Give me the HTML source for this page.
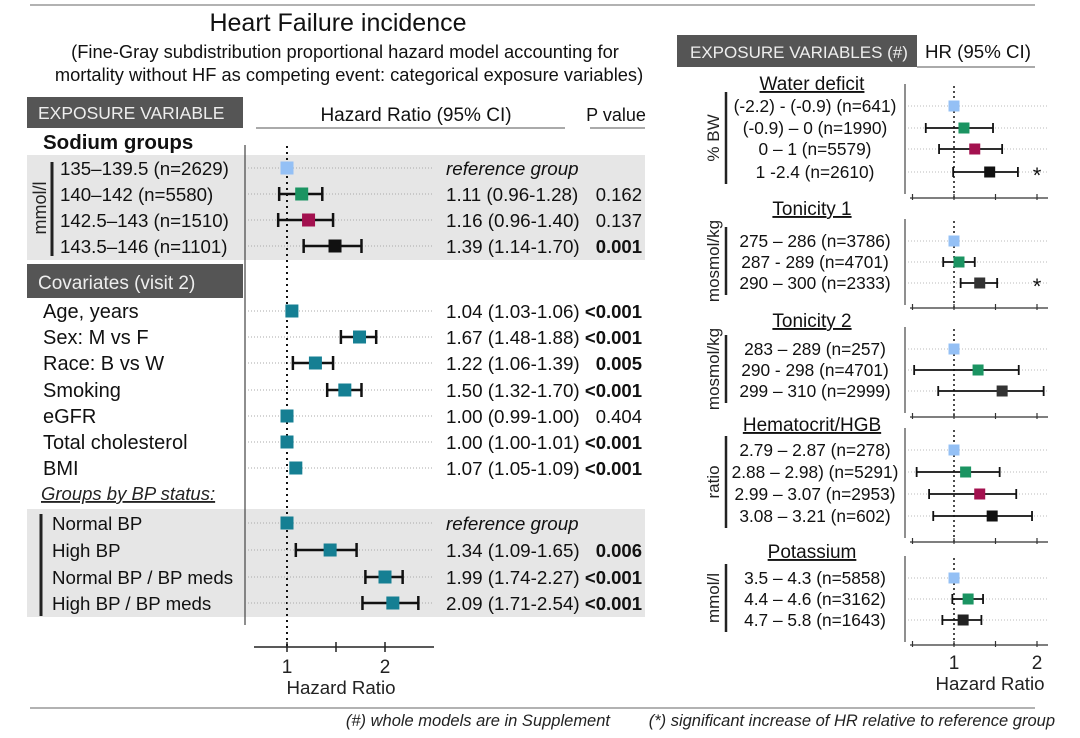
<!DOCTYPE html>
<html><head><meta charset="utf-8">
<style>
html,body{margin:0;padding:0;background:#fff;}
svg{display:block;font-family:"Liberation Sans",Arial,sans-serif;}
</style></head>
<body>
<svg id="chart" width="1080" height="738" viewBox="0 0 1080 738" xmlns="http://www.w3.org/2000/svg">
<g>
<line x1="30" y1="5" x2="1035" y2="5" stroke="#666" stroke-width="1"/>
<text x="338" y="31" font-size="25" text-anchor="middle" fill="#111">Heart Failure incidence</text>
<text x="345" y="58" font-size="18.3" text-anchor="middle" fill="#111">(Fine-Gray subdistribution proportional hazard model accounting for</text>
<text x="349" y="81" font-size="18.3" text-anchor="middle" fill="#111">mortality without HF as competing event: categorical exposure variables)</text>

<rect x="27" y="97" width="216" height="31" fill="#555"/>
<text x="38" y="119" font-size="17.5" fill="#eee">EXPOSURE VARIABLE</text>
<text x="416" y="121" font-size="19" text-anchor="middle" fill="#111">Hazard Ratio (95% CI)</text>
<line x1="256" y1="128" x2="565" y2="128" stroke="#555"/>
<text x="616" y="121" font-size="18" text-anchor="middle" fill="#111">P value</text>
<line x1="590" y1="128" x2="645" y2="128" stroke="#555"/>
<text x="43" y="149" font-size="20.5" font-weight="bold" fill="#111">Sodium groups</text>

<rect x="27" y="155" width="618" height="105" fill="#e6e6e6"/>
<rect x="27" y="509" width="618" height="108" fill="#e6e6e6"/>
<rect x="27" y="264" width="216" height="34" fill="#555"/>
<text x="38" y="289" font-size="19" fill="#eee">Covariates (visit 2)</text>
<line x1="52" y1="162" x2="52" y2="256" stroke="#222" stroke-width="3"/>
<text transform="translate(46,208) rotate(-90)" font-size="18" text-anchor="middle" fill="#222">mmol/l</text>
<line x1="41" y1="514" x2="41" y2="616" stroke="#222" stroke-width="3"/>
<text x="41" y="500" font-size="18.5" font-style="italic" text-decoration="underline" fill="#222">Groups by BP status:</text>
<line x1="245" y1="145" x2="245" y2="625" stroke="#444" stroke-width="1.2"/>

<rect x="677" y="35" width="240" height="32" fill="#555"/>
<text x="690" y="58" font-size="17" fill="#eee">EXPOSURE VARIABLES (#)</text>
<text x="925" y="58" font-size="18.7" fill="#111">HR (95% CI)</text>
<line x1="917" y1="67" x2="1035" y2="67" stroke="#555"/>

<line x1="30" y1="708" x2="1035" y2="708" stroke="#666"/>
<text x="610" y="726" font-size="16.5" font-style="italic" text-anchor="end" fill="#222">(#) whole models are in Supplement</text>
<text x="1055" y="726" font-size="16.5" font-style="italic" text-anchor="end" fill="#222">(*) significant increase of HR relative to reference group</text>
</g>
<g id="left-plot"></g>
<g id="right-plot"></g>
</svg>
<script>
// ---- Left panel data ----
const leftLabels = ["135–139.5 (n=2629)","140–142 (n=5580)","142.5–143 (n=1510)","143.5–146 (n=1101)","Age, years","Sex: M vs F","Race: B vs W","Smoking","eGFR","Total cholesterol","BMI","Normal BP","High BP","Normal BP / BP meds","High BP / BP meds"];
const leftEst = [1.0,1.15,1.22,1.49,1.05,1.74,1.29,1.59,1.0,1.0,1.09,1.0,1.44,2.0,2.08];
const leftLo  = [null,0.92,0.91,1.17,null,1.55,1.06,1.41,null,null,null,null,1.09,1.80,1.77];
const leftHi  = [null,1.36,1.47,1.76,null,1.91,1.47,1.76,null,null,null,null,1.71,2.18,2.34];
const leftText = ["reference group","1.11 (0.96-1.28)","1.16 (0.96-1.40)","1.39 (1.14-1.70)","1.04 (1.03-1.06)","1.67 (1.48-1.88)","1.22 (1.06-1.39)","1.50 (1.32-1.70)","1.00 (0.99-1.00)","1.00 (1.00-1.01)","1.07 (1.05-1.09)","reference group","1.34 (1.09-1.65)","1.99 (1.74-2.27)","2.09 (1.71-2.54)"];
const leftP = ["","0.162","0.137","0.001","<0.001","<0.001","0.005","<0.001","0.404","<0.001","<0.001","","0.006","<0.001","<0.001"];
const leftPBold = [false,false,false,true,true,true,true,true,false,true,true,false,true,true,true];
const leftColors = ["#94c0f5","#1b9462","#a3114f","#111111","#157f93","#157f93","#157f93","#157f93","#157f93","#157f93","#157f93","#157f93","#157f93","#157f93","#157f93"];
const leftTicks = [1,1.5,2];
const leftTickLabels = ["1","","2"];

// ---- Right panel data ----
const rightGroups = ["Water deficit","Tonicity 1","Tonicity 2","Hematocrit/HGB","Potassium"];
const rightUnits = ["% BW","mosmol/kg","mosmol/kg","ratio","mmol/l"];
const rightLabels = [
 ["(-2.2) - (-0.9) (n=641)","(-0.9) – 0 (n=1990)","0 – 1   (n=5579)","1 -2.4 (n=2610)"],
 ["275 – 286 (n=3786)","287 - 289 (n=4701)","290 – 300 (n=2333)"],
 ["283 – 289 (n=257)","290 - 298 (n=4701)","299 – 310 (n=2999)"],
 ["2.79 – 2.87 (n=278)","2.88 – 2.98) (n=5291)","2.99 – 3.07 (n=2953)","3.08 – 3.21 (n=602)"],
 ["3.5 – 4.3 (n=5858)","4.4 – 4.6 (n=3162)","4.7 – 5.8 (n=1643)"]];
const rightEst = [[1.0,1.12,1.25,1.43],[1.0,1.06,1.31],[1.0,1.29,1.58],[1.0,1.14,1.31,1.46],[1.0,1.17,1.11]];
const rightLo  = [[null,0.66,0.82,0.99],[null,0.87,1.08],[null,0.52,0.81],[null,0.55,0.70,0.75],[null,0.98,0.86]];
const rightHi  = [[null,1.47,1.58,1.77],[null,1.25,1.52],[null,1.78,2.08],[null,1.55,1.75,1.94],[null,1.35,1.33]];
const rightStar = [[false,false,false,true],[false,false,true],[false,false,false],[false,false,false,false],[false,false,false]];
const rightColors = [["#94c0f5","#1b9462","#a3114f","#111111"],["#94c0f5","#1b9462","#333333"],["#94c0f5","#1b9462","#333333"],["#94c0f5","#1b9462","#a3114f","#111111"],["#94c0f5","#1b9462","#222222"]];
const rightTicks = [0.5,1,1.5,2];
const rightTickLabels = ["","1","","2"];

const NS="http://www.w3.org/2000/svg";
function mk(parent,tag,attrs,txt){const e=document.createElementNS(NS,tag);for(const k in attrs)e.setAttribute(k,attrs[k]);if(txt!==undefined)e.textContent=txt;parent.appendChild(e);return e;}

// Left axis
const lx = v => 287 + (v-1)*98;
const leftRowY = [168,194,220,246,311,337,363,390,416,442,468,523,550,577,603];
const L=document.getElementById('left-plot');
let dl=mk(L,'line',{x1:lx(1),y1:146,x2:lx(1),y2:650,stroke:'#111','stroke-width':2,'stroke-dasharray':'2,4'});


let ax=mk(L,'line',{x1:254,y1:647,x2:434,y2:647,stroke:'#222','stroke-width':1.5});


leftTicks.forEach((t,i)=>{
 let tk=mk(L,'line',{x1:lx(t),y1:642,x2:lx(t),y2:652,stroke:'#222','stroke-width':1.5});
 
 
 if(leftTickLabels[i]){let tl=mk(L,'text',{x:lx(t),y:673,'font-size':19,'text-anchor':'middle',fill:'#222'},leftTickLabels[i]);
 
 }
});
let at=mk(L,'text',{x:341,y:694,'font-size':18.7,'text-anchor':'middle',fill:'#222'},'Hazard Ratio');


leftLabels.forEach((lab,i)=>{
 const y=leftRowY[i];
 const lxpos = i<4?60:(i>=11?52:43);
 let t=mk(L,'text',{x:lxpos,y:y+7,'font-size':i<4||i>=11?18.7:20,fill:'#111'},lab);
 
 
 let g=mk(L,'line',{x1:248,y1:y,x2:432,y2:y,stroke:'#aaa','stroke-width':1,'stroke-dasharray':'1,2'});
 
 
 if(leftLo[i]!==null){
  let c=mk(L,'line',{x1:lx(leftLo[i]),y1:y,x2:lx(leftHi[i]),y2:y,stroke:'#111','stroke-width':2.5});
  
  
  [leftLo[i],leftHi[i]].forEach(v=>{let cap=mk(L,'line',{x1:lx(v),y1:y-7,x2:lx(v),y2:y+7,stroke:'#111','stroke-width':2.5});
  
  });
 }
 let m=mk(L,'rect',{x:lx(leftEst[i])-6.5,y:y-6.5,width:13,height:13,fill:leftColors[i]});
 
 
 const ref=leftText[i]==='reference group';
 let v=mk(L,'text',{x:446,y:y+7,'font-size':18.8,fill:'#111','font-style':ref?'italic':'normal'},leftText[i]);
 
 
 if(leftP[i]){let p=mk(L,'text',{x:642,y:y+7,'font-size':18.5,'text-anchor':'end',fill:'#111','font-weight':leftPBold[i]?'bold':'normal'},leftP[i]);
 
 }
});

// Right panel
const rx = v => 954 + (v-1)*83;
const R=document.getElementById('right-plot');
const grpTitleY=[90,215,327,431,558];
const grpRowY=[[106,128,149,172],[241,262,283],[349,370,391],[450,472,494,516],[578,599,620]];
const grpAxisY=[198,308,417,542,645];
rightGroups.forEach((gname,gi)=>{
 const ys=grpRowY[gi];
 let tt=mk(R,'text',{x:812,y:grpTitleY[gi],'font-size':19,'text-anchor':'middle',fill:'#111','text-decoration':'underline'},gname);
 
 
 const top=ys[0]-14, bot=ys[ys.length-1]+12;
 let ub=mk(R,'line',{x1:726,y1:top,x2:726,y2:bot,stroke:'#222','stroke-width':2.5});
 
 
 let ul=mk(R,'text',{transform:`translate(719,${(top+bot)/2}) rotate(-90)`,'font-size':17,'text-anchor':'middle',fill:'#222'},rightUnits[gi]);
 
 
 let vl=mk(R,'line',{x1:905,y1:top-8,x2:905,y2:bot+10,stroke:'#444','stroke-width':1.2});
 
 
 let dd=mk(R,'line',{x1:rx(1),y1:top-6,x2:rx(1),y2:grpAxisY[gi],stroke:'#111','stroke-width':1.5,'stroke-dasharray':'2,3'});
 
 
 let a=mk(R,'line',{x1:910,y1:grpAxisY[gi],x2:1048,y2:grpAxisY[gi],stroke:'#333','stroke-width':1.2});
 
 
 rightTicks.forEach((t,ti)=>{let tk=mk(R,'line',{x1:rx(t),y1:grpAxisY[gi]-4,x2:rx(t),y2:grpAxisY[gi]+2,stroke:'#333','stroke-width':1.2});
  
  
  if(gi===rightGroups.length-1&&rightTickLabels[ti]){let tl=mk(R,'text',{x:rx(t),y:669,'font-size':19,'text-anchor':'middle',fill:'#222'},rightTickLabels[ti]);
  
  }});
 rightLabels[gi].forEach((lab,ri)=>{
  const y=ys[ri];
  let t=mk(R,'text',{x:815,y:y+6,'font-size':17.3,'text-anchor':'middle',fill:'#111'},lab);
  
  
  let g=mk(R,'line',{x1:908,y1:y,x2:1048,y2:y,stroke:'#bbb','stroke-width':1,'stroke-dasharray':'1,2'});
  
  
  const lo=rightLo[gi][ri],hi=rightHi[gi][ri];
  if(lo!==null){
   let c=mk(R,'line',{x1:rx(lo),y1:y,x2:rx(hi),y2:y,stroke:'#111','stroke-width':1.8});
   
   
   [lo,hi].forEach(v=>{let cap=mk(R,'line',{x1:rx(v),y1:y-5,x2:rx(v),y2:y+5,stroke:'#111','stroke-width':1.8});
   
   });
  }
  let m=mk(R,'rect',{x:rx(rightEst[gi][ri])-5.5,y:y-5.5,width:11,height:11,fill:rightColors[gi][ri]});
  
  
  if(rightStar[gi][ri]){let s=mk(R,'text',{x:1037,y:y+11,'font-size':22,'text-anchor':'middle',fill:'#111'},'*');
  
  }
 });
});
let rat=mk(R,'text',{x:990,y:690,'font-size':18.7,'text-anchor':'middle',fill:'#222'},'Hazard Ratio');


</script>
</body></html>
